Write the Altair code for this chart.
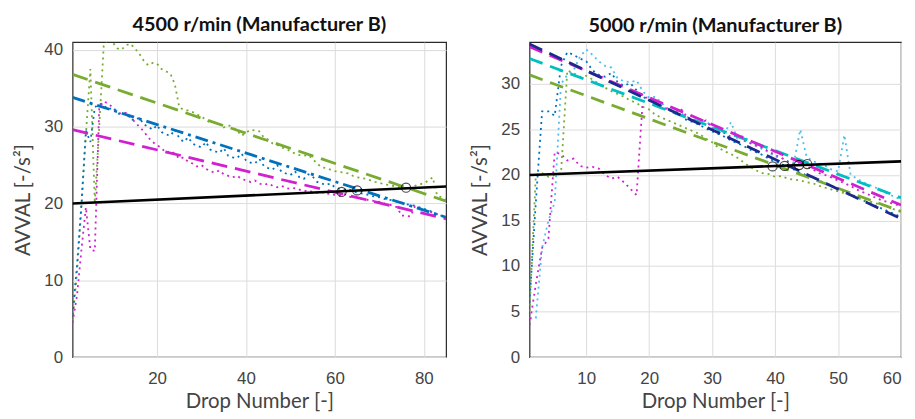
import altair as alt
import pandas as pd

# ---------------- Left panel: 4500 r/min ----------------
L_drops = list(range(1, 86))
L_green = [4.8, 11, 19.5, 29, 37.5, 20, 30, 40.5, 41.5, 41,
           40.2, 40, 40.6, 40.8, 40.2, 39.5, 38.6, 38, 38.3, 38.2,
           37.5, 37.2, 36.9, 35.5, 32.5, 32.2, 32.1, 31.9, 31.6, 31.3,
           30.9, 30.5, 30.6, 30.3, 29.9, 30.2, 29.9, 29.5, 28.8, 29.2,
           29.6, 29.5, 29.4, 28.6, 28.3, 27.8, 27.6, 27.3, 27.1, 26.8,
           26.5, 26.3, 26.2, 26.3, 25.8, 25.2, 24.7, 24.6, 24.4, 24.2,
           24.1, 24.0, 23.9, 23.6, 23.4, 23.3, 23.2, 23.0, 22.8, 22.7,
           22.5, 22.4, 22.3, 22.2, 22.0, 21.9, 21.9, 22.3, 22.5, 22.6,
           23.0, 23.4, 21.0, 20.8, 20.5]
L_blue = [5.5, 12, 20, 29.5, 28, 32.5, 33, 32.8, 32.2, 32.5,
          31.8, 31.5, 31.8, 31.0, 30.8, 31.2, 30.3, 30.0, 29.6, 30.2,
          29.3, 29.0, 28.8, 29.6, 28.5, 28.0, 28.6, 27.8, 27.5, 27.3,
          28.0, 27.0, 26.8, 26.6, 27.2, 26.2, 26.0, 25.9, 26.5, 25.6,
          25.3, 25.2, 25.8, 24.9, 24.6, 24.4, 25.0, 24.1, 23.9, 23.7,
          24.2, 23.4, 23.2, 23.8, 23.5, 22.8, 22.6, 22.4, 22.6, 22.1,
          21.9, 21.8, 21.9, 21.6, 21.4, 21.3, 21.2, 21.0, 20.9, 20.8,
          20.6, 20.5, 20.4, 20.2, 20.1, 19.9, 19.8, 19.7, 19.5, 19.3,
          19.1, 18.9, 18.5, 18.4, 18.2]
L_magenta = [4.5, 8, 14, 19.5, 14, 13.8, 32.5, 33.3, 33.0, 32.5,
             32.0, 31.6, 31.8, 31.2, 30.6, 30.0, 29.4, 28.6, 28.0, 27.6,
             27.2, 26.6, 26.8, 26.5, 25.8, 26.0, 25.4, 25.2, 24.8, 25.0,
             24.5, 24.2, 24.0, 24.3, 23.8, 23.6, 23.4, 23.6, 23.2, 23.0,
             22.8, 23.0, 22.6, 22.4, 22.6, 22.3, 22.1, 22.3, 22.0, 21.9,
             22.0, 21.8, 21.6, 21.7, 21.5, 21.4, 21.5, 21.2, 21.3, 21.1,
             21.0, 21.3, 20.9, 20.8, 20.9, 20.6, 20.5, 20.4, 20.3, 20.2,
             20.0, 19.9, 19.7, 19.5, 18.4, 18.4, 18.3, 19.6, 19.4, 19.2,
             19.0, 18.8, 18.6, 18.4, 18.1]
L_fit_x = [1, 85]
L_fit_green = [36.8, 20.3]
L_fit_blue = [33.8, 18.2]
L_fit_magenta = [29.6, 18.0]
L_black = [20.0, 22.2]
L_circ_x = [61.5, 65.0, 76.0]
L_circ_y = [21.5, 21.7, 22.05]

# ---------------- Right panel: 5000 r/min ----------------
R_drops = list(range(1, 61))
R_blue = [6, 17, 27, 27, 26.5, 32, 33.5, 33.2, 32.8, 32.5,
          31.5, 31.0, 30.8, 31.2, 30.2, 29.8, 30.1, 29.3, 28.6, 28.2,
          28.0, 27.4, 27.2, 26.8, 26.6, 26.0, 25.8, 25.5, 25.1, 24.8,
          24.5, 24.2, 23.8, 23.5, 23.2, 22.8, 22.5, 22.2, 21.8, 21.5,
          21.2, 20.9, 20.6, 20.2, 20.0, 19.7, 19.4, 19.1, 18.8, 18.5,
          18.2, 17.9, 17.6, 17.2, 16.9, 16.6, 16.3, 16.0, 15.7, 15.4]
R_lightblue = [4.3, 4.3, 12, 15, 17, 30, 31, 31.5, 33.0, 33.8,
               33.2, 32.5, 32.0, 31.8, 30.6, 30.3, 30.2, 30.4, 29.2, 28.5,
               28.6, 27.9, 27.3, 27.4, 26.8, 26.4, 26.0, 25.7, 26.0, 25.2,
               24.9, 24.7, 25.8, 24.0, 24.3, 23.6, 23.3, 22.8, 22.5, 22.0,
               21.9, 21.5, 21.4, 25.0, 22.0, 21.5, 21.3, 21.0, 20.6, 20.4,
               24.4, 20.0, 19.6, 19.2, 18.9, 18.6, 18.2, 17.9, 17.6, 17.3]
R_magenta = [3.5, 8, 12, 13, 22.5, 22.3, 21.6, 21.8, 21.0, 20.8,
             20.9, 20.7, 20.0, 19.6, 19.8, 19.2, 18.5, 17.8, 28.4, 28.6,
             28.0, 27.6, 27.2, 26.9, 27.3, 26.4, 26.0, 25.6, 26.0, 25.2,
             24.8, 24.6, 24.2, 24.4, 23.8, 23.5, 23.2, 23.0, 22.6, 22.2,
             21.9, 21.5, 21.2, 21.4, 21.0, 20.6, 20.2, 20.0, 19.7, 19.4,
             19.1, 18.8, 18.4, 18.1, 17.8, 17.5, 17.2, 17.0, 16.8, 16.6]
R_green = [5, 20, 20.2, 19.8, 20.0, 20.2, 31.5, 31.2, 30.8, 30.9,
           30.5, 30.0, 29.6, 29.2, 28.9, 28.6, 28.2, 27.9, 27.5, 27.2,
           26.6, 26.3, 26.0, 25.7, 25.4, 25.1, 24.8, 24.5, 24.0, 23.6,
           23.0, 22.6, 22.3, 21.9, 21.4, 20.9, 20.5, 20.2, 20.1, 19.8,
           19.9, 19.6, 19.5, 19.4, 19.2, 19.1, 18.8, 18.6, 18.4, 18.2,
           18.0, 17.8, 17.5, 17.3, 17.1, 16.9, 16.7, 16.5, 16.2, 16.0]
R_fit_x = [1, 60]
R_fit_navy = [34.4, 15.2]
R_fit_magenta = [34.1, 16.7]
R_fit_cyan = [32.8, 17.5]
R_fit_green = [31.0, 16.0]
R_black = [20.0, 21.5]
R_circ_x = [39.6, 41.5, 43.8, 45.1]
R_circ_y = [20.95, 21.0, 21.1, 21.2]

COLORS = {
    "green": "#77AC30",
    "blue": "#0072BD",
    "magenta": "#D020D0",
    "navy": "#1B2A8C",
    "cyan": "#00BFBF",
    "lightblue": "#4DBEEE",
}


def rows(series, xs, ys):
    return pd.DataFrame([{"series": series, "x": a, "y": b} for a, b in zip(xs, ys, strict=True)])


def make_panel(title, width, xdom, ydom, xticks, yticks, dotted, dashed, dashdot, black, circ, dash):
    xs = alt.Scale(domain=xdom, nice=False, zero=False)
    ys = alt.Scale(domain=ydom, nice=False, zero=False)
    xax = alt.Axis(values=xticks, title="Drop Number [-]")
    yax = alt.Axis(values=yticks, title="AVVAL [-/s²]")
    names = list(COLORS.keys())
    cscale = alt.Scale(domain=names, range=[COLORS[n] for n in names])
    X = alt.X("x:Q", scale=xs, axis=xax)
    Y = alt.Y("y:Q", scale=ys, axis=yax)
    C = alt.Color("series:N", scale=cscale, legend=None)

    layers = []
    layers.append(alt.Chart(dotted).mark_line(strokeDash=[2, 4], strokeWidth=1.8, clip=True)
                  .encode(x=X, y=Y, color=C, detail="series:N"))
    layers.append(alt.Chart(dashed).mark_line(strokeDash=dash, strokeWidth=2.8, clip=True)
                  .encode(x=X, y=Y, color=C, detail="series:N"))
    if dashdot is not None:
        layers.append(alt.Chart(dashdot).mark_line(strokeDash=[13, 5, 3, 5], strokeWidth=2.8, clip=True)
                      .encode(x=X, y=Y, color=C, detail="series:N"))
    layers.append(alt.Chart(black).mark_line(color="black", strokeWidth=2.6, clip=True)
                  .encode(x=X, y=Y))
    layers.append(alt.Chart(circ).mark_point(shape="circle", size=85, filled=False,
                                              stroke="black", strokeWidth=1.2, clip=True)
                  .encode(x=X, y=Y))
    return alt.layer(*layers).properties(
        width=width, height=317,
        title=alt.TitleParams(title, font="Lato", fontSize=20, fontWeight="bold",
                              color="#111111", offset=6))


left_dotted = pd.concat([rows("green", L_drops, L_green),
                         rows("blue", L_drops, L_blue),
                         rows("magenta", L_drops, L_magenta)])
left_dashed = pd.concat([rows("green", L_fit_x, L_fit_green),
                         rows("magenta", L_fit_x, L_fit_magenta)])
left_dashdot = rows("blue", L_fit_x, L_fit_blue)
left_black = rows("black", L_fit_x, L_black)
left_circ = rows("circ", L_circ_x, L_circ_y)

right_dotted = pd.concat([rows("blue", R_drops, R_blue),
                          rows("lightblue", R_drops, R_lightblue),
                          rows("magenta", R_drops, R_magenta),
                          rows("green", R_drops, R_green)])
right_dashed = pd.concat([rows("green", R_fit_x, R_fit_green),
                          rows("cyan", R_fit_x, R_fit_cyan),
                          rows("magenta", R_fit_x, R_fit_magenta),
                          rows("navy", R_fit_x, R_fit_navy)])
right_black = rows("black", R_fit_x, R_black)
right_circ = rows("circ", R_circ_x, R_circ_y)

left = make_panel("4500 r/min (Manufacturer B)", 376, [1, 85], [0, 41],
                  [20, 40, 60, 80], [0, 10, 20, 30, 40],
                  left_dotted, left_dashed, left_dashdot, left_black, left_circ, [16, 8])
right = make_panel("5000 r/min (Manufacturer B)", 374, [1, 60], [0, 34.6],
                   [10, 20, 30, 40, 50, 60], [0, 5, 10, 15, 20, 25, 30],
                   right_dotted, right_dashed, None, right_black, right_circ, [14, 8])

chart = alt.hconcat(left, right, spacing=23).configure_view(
    stroke="#2a2a2a", strokeWidth=1.2
).configure_axis(
    grid=True, gridColor="#dcdcdc", gridWidth=1,
    domain=False, ticks=False,
    labelFont="Liberation Sans", labelFontSize=17, labelColor="#444444", labelPadding=10,
    titleFont="Lato", titleFontSize=20.5, titleFontWeight="normal", titleColor="#444444",
    titlePadding=6,
).configure_axisY(titlePadding=10).configure_axisX(labelPadding=14, titlePadding=5).properties(background="white")

chart.save("out.html", embed_options={"renderer": "svg", "actions": False})
